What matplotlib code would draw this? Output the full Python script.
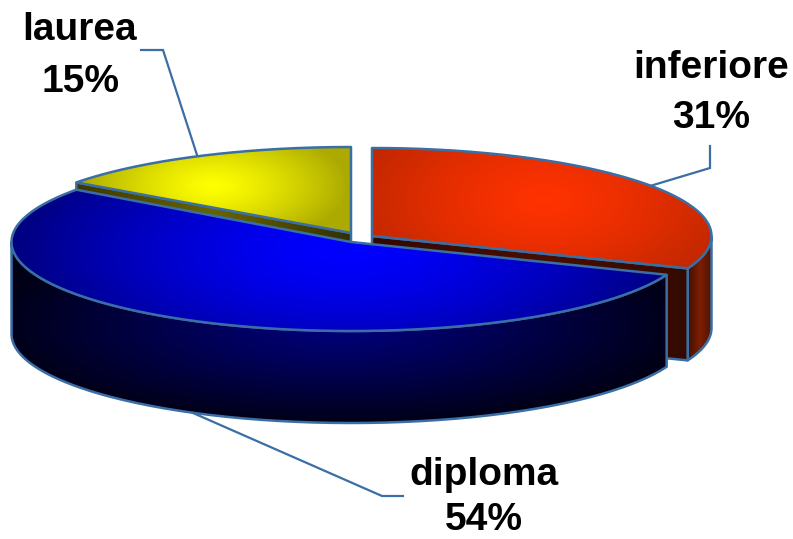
import numpy as np
import matplotlib
matplotlib.use("Agg")
import matplotlib.pyplot as plt
from matplotlib.path import Path
from matplotlib.patches import PathPatch

categories = ["inferiore", "diploma", "laurea"]
shares = [31, 54, 15]

EDGE = "#3A6EA5"
RX, DEPTH = 339.5, 92
APEX = {"inferiore": (372, 236, 88), "diploma": (351, 242, 89), "laurea": (351, 233, 86)}

fig = plt.figure(figsize=(7.93, 5.39), dpi=100)
ax = fig.add_axes([0, 0, 1, 1])
ax.axis("off")
W, H = 793, 539
YY, XX = np.mgrid[0:H, 0:W] + 0.5

# slice angles, clockwise from 12 o'clock
ends = np.cumsum(shares) / np.sum(shares) * 2 * np.pi
starts = np.r_[0, ends[:-1]]
ang = {c: (a, b) for c, a, b in zip(categories, starts, ends)}


def arc(c, a, b, dy=0, n=160):
    cx, cy, ry = APEX[c]
    t = np.linspace(a, b, n)
    return np.c_[cx + RX * np.sin(t), cy - ry * np.cos(t) + dy]


def fill(pts, rgb_fn, z, lw=1.8):
    """Paint a polygon with a per-pixel colour field, then outline it."""
    img = np.clip(rgb_fn(XX, YY), 0, 255).astype(np.uint8)
    path = Path(np.r_[pts, pts[:1]], closed=False)
    im = ax.imshow(img, extent=(0, W, H, 0), zorder=z, interpolation="bilinear", aspect="auto")
    patch = PathPatch(path, fc="none", ec="none", transform=ax.transData)
    ax.add_patch(patch)
    im.set_clip_path(patch)
    ax.add_patch(PathPatch(path, fc="none", ec=EDGE, lw=lw, zorder=z + 0.1, joinstyle="round"))


def radial(c0, c1, x0, y0, a, b, power=1.0):
    c0, c1 = np.array(c0, float), np.array(c1, float)

    def f(x, y):
        t = np.clip(np.sqrt(((x - x0) / a) ** 2 + ((y - y0) / b) ** 2), 0, 1)[..., None] ** power
        return c0 + (c1 - c0) * t
    return f


def strip(c0, c1, c2, x0, x1):
    c0, c1, c2 = [np.array(k, float) for k in (c0, c1, c2)]

    def f(x, y):
        t = np.clip((x - x0) / (x1 - x0), 0, 1)[..., None]
        return np.where(t < .5, c0 + (c1 - c0) * t * 2, c1 + (c2 - c1) * (t - .5) * 2)
    return f


# --- inferiore -------------------------------------------------------------
a, b = ang["inferiore"]
cx, cy, ry = APEX["inferiore"]
outer = arc("inferiore", np.pi / 2, b)
fill(np.r_[outer, arc("inferiore", np.pi / 2, b, DEPTH)[::-1]],
     strip((60, 15, 0), (125, 30, 0), (75, 18, 0), 687, 713), 1)
tip = arc("inferiore", b, b, n=1)[0]
fill(np.array([[cx, cy], tip, tip + [0, DEPTH], [cx, cy + DEPTH]]),
     strip((50, 8, 0), (72, 14, 0), (52, 10, 0), cx, tip[0]), 2)
fill(np.r_[[[cx, cy]], arc("inferiore", a, b)],
     radial((255, 50, 0), (196, 40, 0), 545, 200, 185, 100, 1.3), 3)

# --- laurea ----------------------------------------------------------------
a, b = ang["laurea"]
cx, cy, ry = APEX["laurea"]
tip = arc("laurea", a, a, n=1)[0]
fill(np.array([tip, [cx, cy], [cx, cy + DEPTH], tip + [0, DEPTH]]),
     strip((60, 55, 0), (105, 100, 0), (50, 48, 0), tip[0], cx), 4)
fill(np.r_[[[cx, cy]], arc("laurea", a, b)],
     radial((255, 255, 0), (172, 170, 0), 213, 186, 135, 62, 1.3), 5)

# --- diploma ---------------------------------------------------------------
a, b = ang["diploma"]
cx, cy, ry = APEX["diploma"]
t0, t1 = a, np.deg2rad(270)
fill(np.r_[arc("diploma", t0, t1), arc("diploma", t0, t1, DEPTH)[::-1]],
     radial((0, 0, 125), (0, 0, 22), 340, 325, 345, 100, 1.1), 6)
fill(np.r_[[[cx, cy]], arc("diploma", a, b)],
     radial((0, 0, 255), (0, 0, 125), 345, 250, 335, 135, 1.5), 7)

# --- leader lines ----------------------------------------------------------
leaders = {
    "laurea": [(141, 50), (163, 50), (197, 155)],
    "inferiore": [(710, 146), (710, 168), (650, 186)],
    "diploma": [(403, 496), (382, 496), (193, 413)],
}
for c in categories:
    p = np.array(leaders[c])
    ax.plot(p[:, 0], p[:, 1], color=EDGE, lw=1.6, zorder=8, solid_joinstyle="miter")

# --- labels (x centre, name baseline, percent baseline) --------------------
label_pos = {"inferiore": (711, 78, 128), "diploma": (484, 485, 530), "laurea": (80, 40, 92)}
for c, v in zip(categories, shares):
    x, y1, y2 = label_pos[c]
    for y, s in ((y1, c), (y2, f"{v}%")):
        ax.text(x, y, s, ha="center", va="baseline", color="black", zorder=9,
                family="Liberation Sans", weight="bold", fontsize=28)

ax.set_xlim(0, W)
ax.set_ylim(H, 0)
fig.savefig("out.png", dpi=100, facecolor="white")
